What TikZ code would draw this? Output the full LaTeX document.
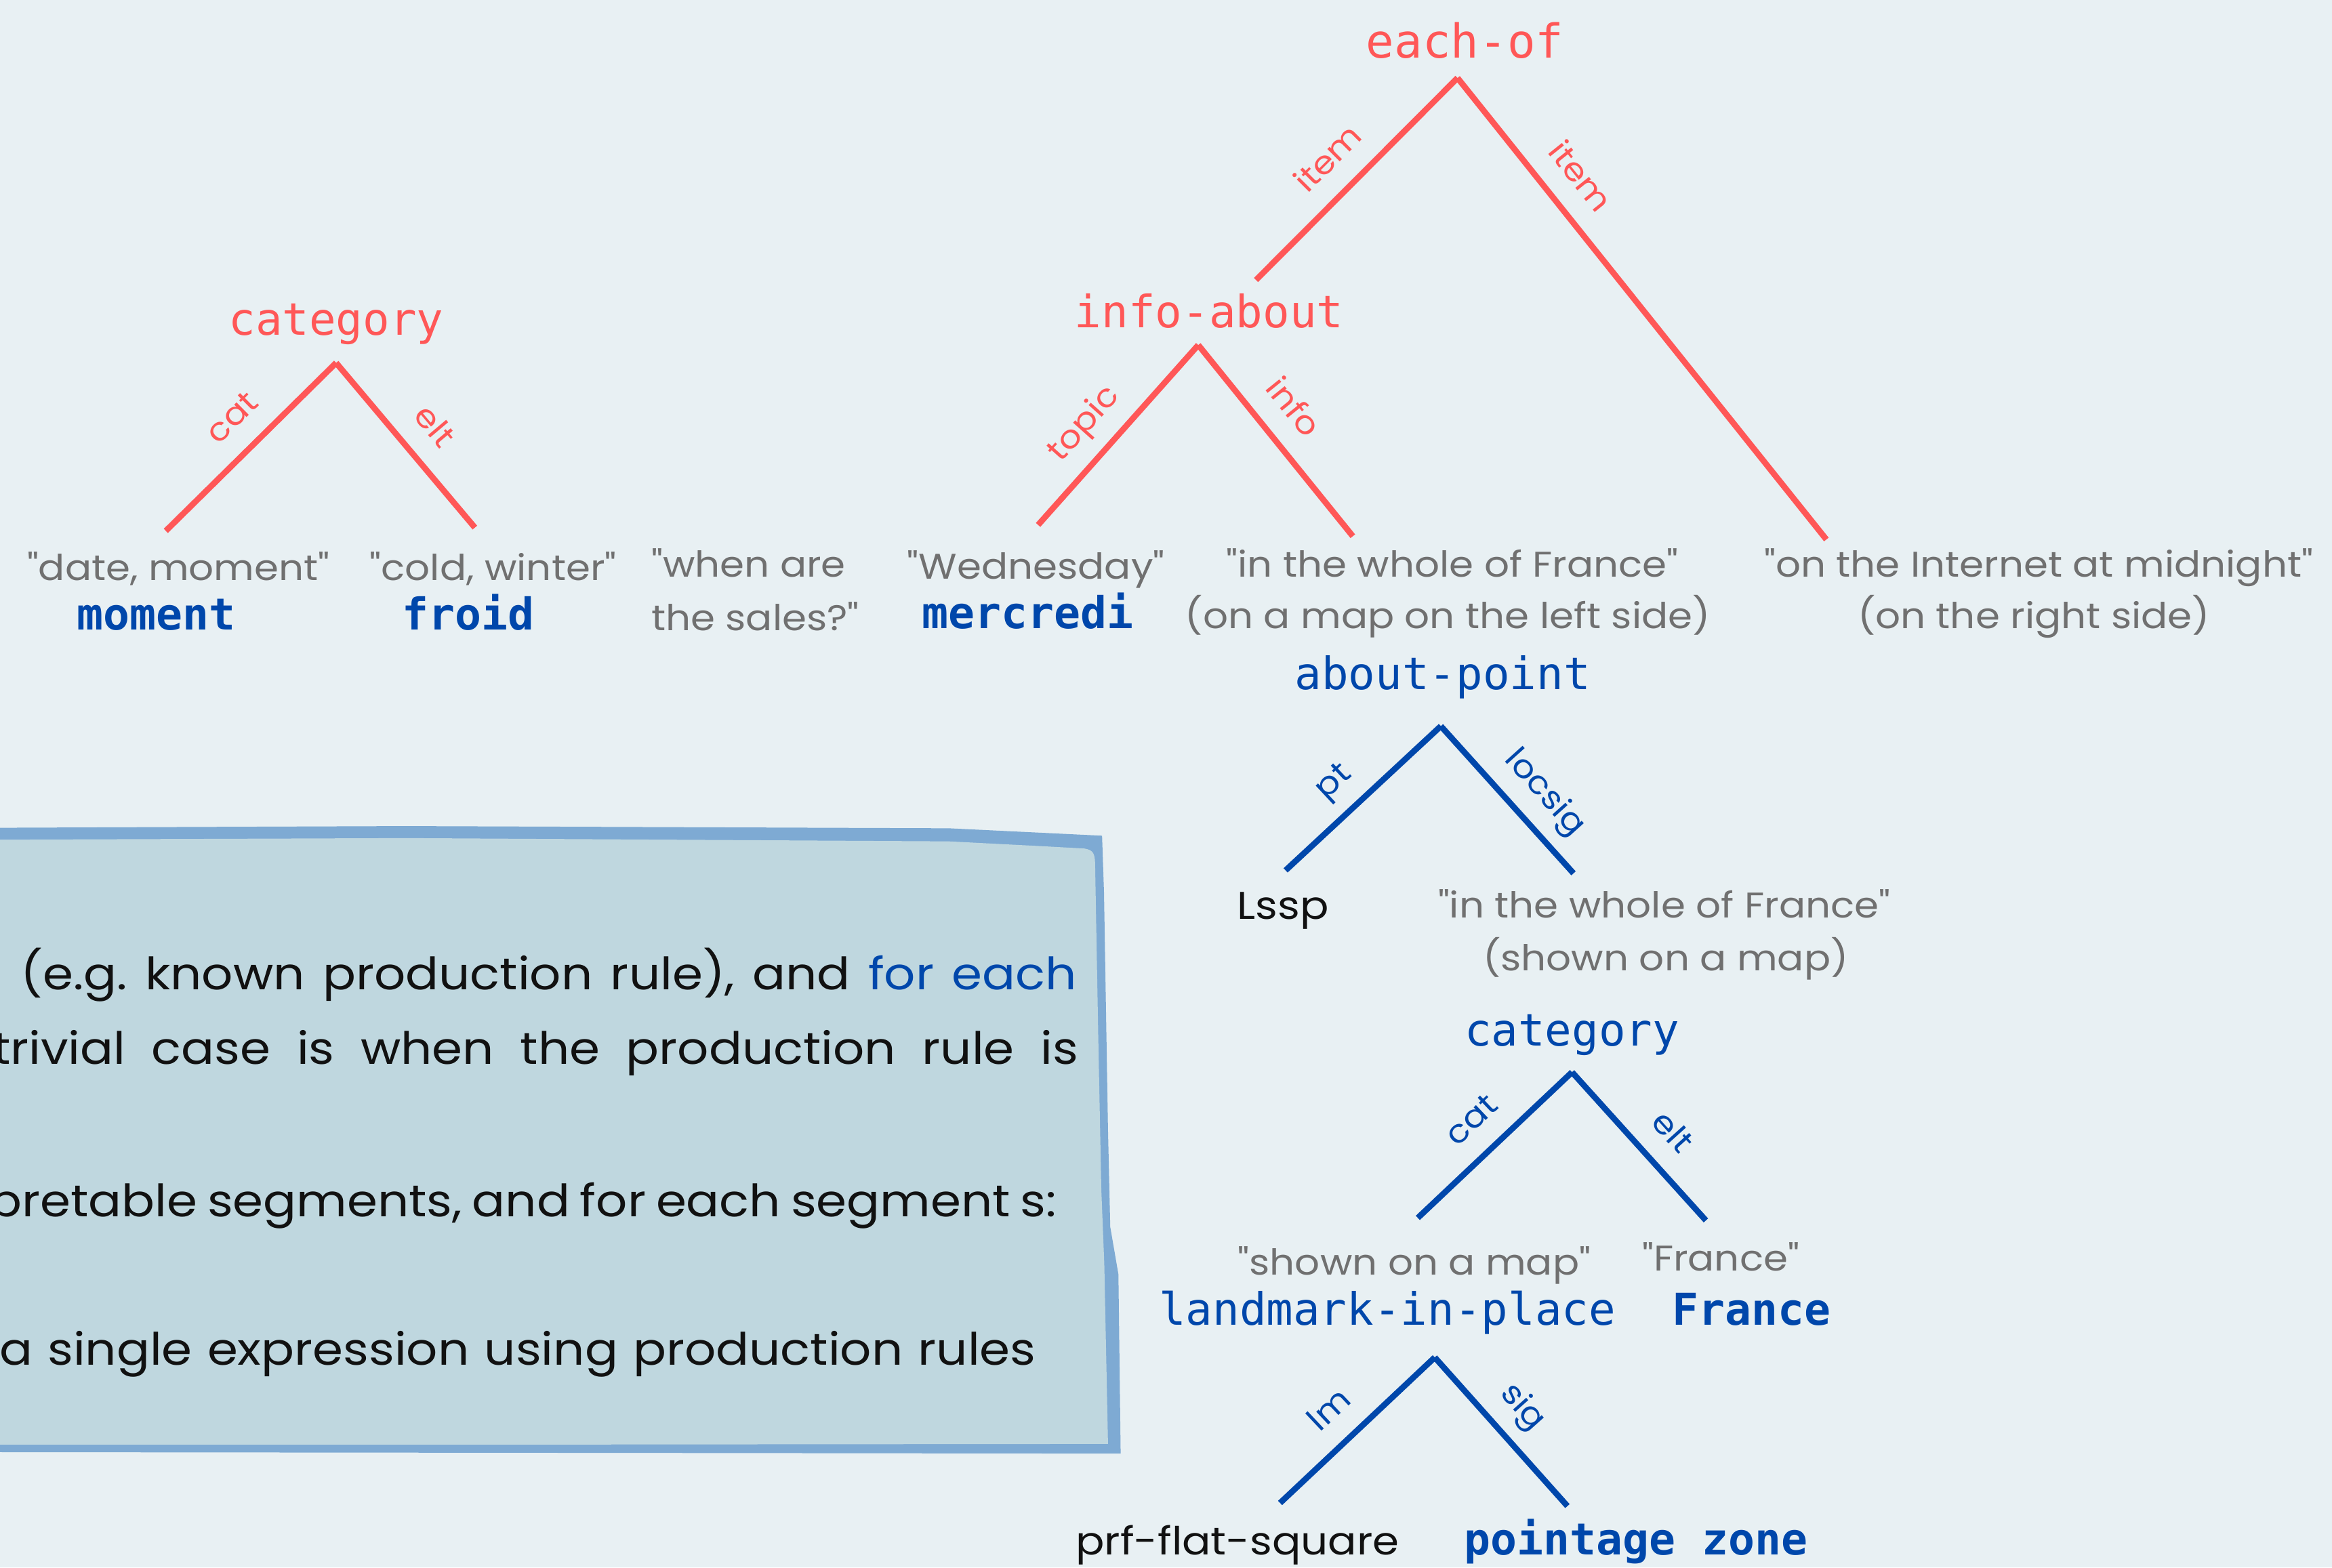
\documentclass[tikz,border=0pt]{standalone}
\usepackage{fontspec}
\setmainfont{Poppins}[Ligatures=TeXOff]
\newfontfamily\widefont{Poppins}[FakeStretch=1.1, Ligatures=TeXOff]
\newfontfamily\lmono{DejaVu Sans Mono}
\newfontfamily\bmono{DejaVu Sans Mono Bold}
\definecolor{bgc}{RGB}{232,240,243}
\definecolor{rd}{RGB}{255,87,87}
\definecolor{bl}{RGB}{0,71,171}
\definecolor{gr}{RGB}{112,112,112}
\definecolor{boxfill}{RGB}{191,215,223}
\definecolor{boxline}{RGB}{126,170,211}
\definecolor{ink}{RGB}{17,17,17}
\frenchspacing
\tikzset{
  every node/.style={inner sep=0pt, outer sep=0pt},
  rlab/.style={font=\lmono\fontsize{30}{36}\selectfont, text=rd, anchor=base},
  blab/.style={font=\lmono\fontsize{30}{36}\selectfont, text=bl, anchor=base},
  bword/.style={font=\bmono\fontsize{29.5}{36}\selectfont, text=bl, anchor=base},
  gloss/.style={font=\widefont\fontsize{24}{29}\selectfont, text=gr, anchor=base},
  blk/.style={font=\widefont\fontsize{26}{31}\selectfont, text=ink, anchor=base},
  rleg/.style={draw=rd, line width=4pt},
  bleg/.style={draw=bl, line width=4pt},
  elab/.style={font=\widefont\fontsize{21.5}{25}\selectfont, sloped, above=16pt, text height=14pt, text depth=0pt},
  boxtxt/.style={font=\widefont\fontsize{30}{35}\selectfont, text=ink, anchor=base east},
}
\begin{document}
\begin{tikzpicture}[x=1pt,y=-1pt]
\fill[bgc] (0,0) rectangle (1568,1054);
\useasboundingbox (0,0) rectangle (1568,1054);

% ---------- box ----------
\fill[boxline] (-10,556.7) -- (273,555.5) -- (638,557) -- (700,560) -- (741,562)
  -- (742.3,600) -- (745,760) -- (746.5,825) -- (752,857) -- (753.5,977.5)
  -- (400,977) -- (-10,976.5) -- cycle;
\fill[boxfill] (-10,564.7) -- (273,563.6) -- (638,565.8) -- (700,569) -- (729,570.6)
  .. controls (735,571.5) and (736,574) .. (736.3,580) -- (738.5,700) -- (740.5,800)
  -- (742.5,850) -- (745,971) -- (400,971.4) -- (-10,971.4) -- cycle;
\node[boxtxt] (t1) at (724,665.6) {\makebox[710pt][s]{(e.g. known production rule), and \textcolor{bl}{for each}}};
\node[boxtxt] (t2) at (725,715.6) {\makebox[730pt][s]{trivial case is when the production rule is}};
\node[boxtxt] (t3) at (710.4,818.2) {\makebox[718pt][s]{pretable segments, and for each segment s:}};
\node[boxtxt] (t4) at (696.6,917.8) {\makebox[697pt][s]{a single expression using production rules}};

% ---------- left tree: category ----------
\node[rlab] (cat1) at (226,225.4) {category};
\coordinate (a1) at (226,244);
\coordinate (a1l) at (111.5,357);
\coordinate (a1r) at (319.3,354.8);
\draw[rleg] (a1) -- node[elab, text=rd, pos=0.47] {cat} (a1l);
\draw[rleg] (a1) -- node[elab, text=rd, pos=0.52] {elt} (a1r);
\node[gloss] (g1) at (120,390.5) {"date, moment"};
\node[bword] (w1) at (105,423.6) {moment};
\node[gloss] (g2) at (331.6,390.5) {"cold, winter"};
\node[bword] (w2) at (315,423.6) {froid};
\node[gloss, anchor=base west] (g3) at (438,388) {"when are};
\node[gloss, anchor=base west] (g3b) at (438,423.8) {the sales?"};

% ---------- each-of / info-about ----------
\node[rlab, font=\lmono\fontsize{31.5}{36}\selectfont] (each) at (985,39) {each-of};
\coordinate (a2) at (980,52.4);
\coordinate (a2l) at (844.5,188.3);
\coordinate (a2r) at (1228,362.8);
\draw[rleg] (a2) -- node[elab, text=rd, pos=0.52] {item} (a2l);
\draw[rleg] (a2) -- node[elab, text=rd, pos=0.26] {item} (a2r);
\node[rlab] (info) at (813,220.4) {info-about};
\coordinate (a3) at (805.7,232);
\coordinate (a3l) at (698,353);
\coordinate (a3r) at (909.6,360.6);
\draw[rleg] (a3) -- node[elab, text=rd, pos=0.56] {topic} (a3l);
\draw[rleg] (a3) -- node[elab, text=rd, pos=0.44] {info} (a3r);
\node[gloss] (g4) at (696.6,389.3) {"Wednesday"};
\node[bword] (w4) at (691,422.8) {mercredi};
\node[gloss] (g5) at (976.6,387.9) {"in the whole of France"};
\node[gloss] (g5b) at (973.5,422.8) {(on a map on the left side)};
\node[gloss] (g6) at (1370.8,387.9) {"on the Internet at midnight"};
\node[gloss] (g6b) at (1367.5,422.8) {(on the right side)};

% ---------- about-point ----------
\node[blab] (ap) at (970,463.8) {about-point};
\coordinate (a4) at (968.8,488.3);
\coordinate (a4l) at (864.4,585.3);
\coordinate (a4r) at (1058,587.3);
\draw[bleg] (a4) -- node[elab, text=bl, pos=0.55] {pt} (a4l);
\draw[bleg] (a4) -- node[elab, text=bl, pos=0.6] {locsig} (a4r);
\node[blk] (lssp) at (862.6,618) {Lssp};
\node[gloss] (g7) at (1119,617) {"in the whole of France"};
\node[gloss] (g7b) at (1120,652.6) {(shown on a map)};

% ---------- category (blue) ----------
\node[blab] (cat2) at (1057,703.3) {category};
\coordinate (a5) at (1057,721);
\coordinate (a5l) at (953.3,819);
\coordinate (a5r) at (1147,820.7);
\draw[bleg] (a5) -- node[elab, text=bl, pos=0.5] {cat} (a5l);
\draw[bleg] (a5) -- node[elab, text=bl, pos=0.56] {elt} (a5r);
\node[gloss] (g8) at (951,857.2) {"shown on a map"};
\node[blab] (lip) at (932.8,891) {landmark-in-place};
\node[gloss] (g9) at (1157,854.5) {"France"};
\node[bword] (w9) at (1177.6,891.3) {France};

% ---------- landmark-in-place ----------
\coordinate (a6) at (964.7,912.8);
\coordinate (a6l) at (860.7,1010.7);
\coordinate (a6r) at (1053.9,1012.8);
\draw[bleg] (a6) -- node[elab, text=bl, pos=0.53] {lm} (a6l);
\draw[bleg] (a6) -- node[elab, text=bl, pos=0.48] {sig} (a6r);
\node[blk] (pfs) at (832,1045.7) {prf-flat-square};
\node[bword] (w10) at (1100,1045.7) {pointage zone};
\end{tikzpicture}
\end{document}
